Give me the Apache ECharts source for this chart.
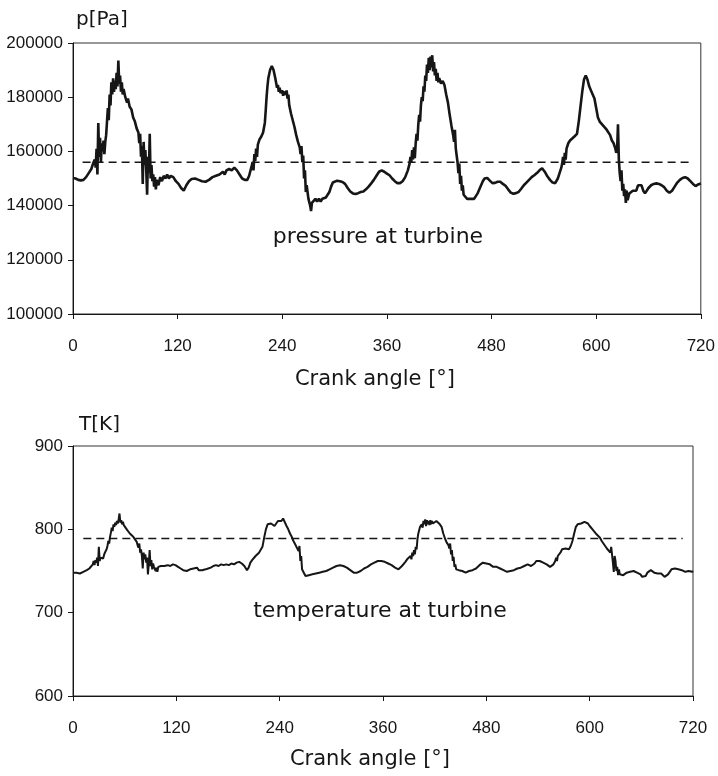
<!DOCTYPE html>
<html>
<head>
<meta charset="utf-8">
<title>Pressure and temperature at turbine</title>
<script src="https://cdn.jsdelivr.net/npm/echarts@6/dist/echarts.min.js"></script>
<style>
  html, body { margin: 0; padding: 0; background: #fff; }
  #chart { width: 718px; height: 776px; }
</style>
</head>
<body>
<div id="chart"></div>
<script>
// crank angle axis [deg]
const angleMin = 0, angleMax = 720, angleStep = 120;

// pressure at turbine, [crank angle, p in Pa]
const pressure = [
  [0,150200],[3,150000],[6,149500],[9,149300],[12,149500],[15,150500],[18,152000],[21,153500],[23,155500],[25,157000],
  [26,154000],[27,161000],[28,151500],[29,170500],[30,158000],[31,165000],[32,156000],[33,163000],[34,160000],[35,164000],
  [36,159000],[37,163500],[38,166000],[39,171000],[40,176000],[41,171500],[42,181000],[43,177000],[44,185500],[45,181000],
  [46,187000],[47,182000],[48,186000],[49,183000],[50,189000],[51,184000],[52,193500],[53,185000],[54,188000],[55,182000],
  [56,185500],[57,181000],[58,183000],[60,180000],[62,178000],[63,179500],[65,176500],[67,175500],[69,172500],[71,171000],
  [73,168500],[75,167000],[76,163000],[77,166500],[78,158000],[79,162000],[80,148000],[81,163500],[82,155000],[83,160500],
  [84,153000],[85,144000],[86,158000],[87,152000],[88,166500],[89,150000],[90,155000],[91,149000],[92,151500],[93,147000],
  [94,150500],[95,146000],[96,149500],[98,147500],[100,150500],[102,149000],[104,151000],[106,150000],[108,151500],[110,150000],
  [112,151000],[115,150500],[118,149000],[121,148000],[124,146500],[127,145500],[130,147500],[133,149000],[136,149800],[140,150000],
  [144,149500],[148,149000],[152,148800],[156,149500],[160,150500],[164,151000],[168,151500],[172,152500],[174,151500],[176,153000],
  [179,153500],[182,153000],[185,154000],[188,153000],[191,151500],[194,150000],[197,149500],[200,149500],[202,151000],[204,153500],
  [206,156000],[207,153000],[208,159000],[209,156500],[210,161000],[211,158000],[212,162500],[214,164500],[216,165500],[218,167000],
  [220,170500],[221,175000],[222,180000],[223,184000],[224,187000],[226,190000],[228,191500],[230,190000],[232,187000],[234,183500],
  [235,184500],[236,182000],[237,183500],[238,181500],[240,182500],[241,180500],[242,182000],[244,181000],[245,182500],[246,179500],
  [247,181000],[248,177000],[250,174000],[252,171500],[254,169000],[256,166000],[258,163500],[260,161500],[261,159000],[262,162000],
  [263,156000],[264,158500],[265,150000],[266,153000],[267,145000],[268,147500],[270,142500],[272,140000],[273,138000],[274,141000],
  [276,140500],[278,142500],[280,141500],[282,142500],[284,141500],[286,142500],[288,142000],[290,143000],[292,143500],[294,145000],
  [296,147000],[298,148500],[300,149000],[303,149200],[306,149000],[309,148700],[312,148000],[315,146500],[318,145200],[321,144500],
  [324,144300],[327,144600],[330,145000],[333,145200],[336,146000],[339,147000],[342,148200],[345,149500],[348,151000],[351,152500],
  [354,153000],[357,152500],[360,151800],[363,151200],[366,150000],[369,149000],[372,148300],[375,148300],[378,149000],[381,150500],
  [384,153000],[386,155500],[387,158000],[388,156000],[389,160500],[390,157000],[391,161500],[392,157500],[393,163000],[394,166500],
  [395,164000],[396,170000],[397,173500],[398,171000],[399,177000],[400,180000],[401,178500],[402,184000],[403,182000],[404,188000],
  [405,186000],[406,192000],[407,189000],[408,194500],[409,190000],[410,195000],[411,191000],[412,195500],[413,189500],[414,193000],
  [415,188000],[416,190500],[417,186000],[418,189000],[419,185500],[420,187000],[422,185000],[424,186000],[426,184500],[428,181000],
  [430,178000],[432,173500],[434,169500],[436,166000],[437,163500],[438,168000],[439,161000],[440,158500],[441,156000],[442,152000],
  [443,155500],[444,148000],[445,151000],[446,145500],[447,147500],[448,144000],[450,143500],[452,142500],[454,143000],[456,142500],
  [458,142000],[460,142500],[462,143500],[464,144500],[466,146000],[468,147500],[470,149000],[472,150000],[475,150200],[478,149200],
  [481,148300],[484,148400],[487,148800],[490,148800],[493,148000],[496,147300],[499,146000],[502,144800],[505,144400],[508,144600],
  [511,145000],[514,146200],[517,147500],[520,148500],[523,149500],[526,150500],[529,151200],[532,152000],[535,153000],[538,153800],
  [541,152500],[544,150800],[547,149500],[550,148500],[553,148300],[556,150000],[558,152000],[560,154000],[561,155500],[562,158000],
  [563,155000],[564,159500],[565,157000],[566,161000],[568,163000],[570,164000],[572,164500],[575,165500],[578,166500],[580,171000],
  [582,176500],[584,182000],[586,186500],[588,188000],[590,186500],[592,184000],[594,182500],[596,181000],[598,179500],[600,176000],
  [602,172500],[604,171000],[606,170500],[608,169500],[610,169000],[612,168000],[614,167500],[616,166000],[618,164000],[620,163000],
  [622,161000],[623,159500],[624,160500],[625,170000],[626,157000],[627,152000],[628,149000],[629,153000],[630,145500],[631,148000],
  [632,143500],[633,146000],[634,141000],[635,145500],[636,142000],[638,144500],[640,144000],[642,145500],[644,145000],[646,145500],
  [648,147500],[650,148200],[652,147500],[654,145500],[656,144500],[658,145000],[660,146500],[663,147500],[666,148000],[669,148200],
  [672,148000],[675,147500],[678,146800],[681,145500],[684,144700],[687,145500],[690,147000],[693,148500],[696,149500],[699,150200],
  [702,150500],[705,150000],[708,149000],[711,148000],[714,147200],[717,147800],[720,148200]
];
// mean pressure (dashed) and where the dash runs
const pMean = 156000;
const pMeanRange = [11, 710];

// temperature at turbine, [crank angle, T in K]
const temperature = [
  [0,748],[4,748],[8,747],[12,749],[16,751],[19,753],[21,755],[23,758],[24,762],[25,757],[26,763],[27,760],[28,766],[29,756],
  [30,779],[31,762],[32,766],[33,764],[34,768],[35,765],[36,769],[37,772],[38,770],[39,776],[40,780],[41,786],[42,783],[43,791],
  [44,796],[45,802],[46,798],[47,806],[48,803],[49,808],[50,805],[51,810],[52,807],[53,812],[54,819],[55,808],[56,811],[57,806],
  [58,809],[59,805],[60,806],[61,802],[62,803],[63,799],[64,798],[66,795],[68,793],[70,791],[72,789],[74,785],[75,781],[76,778],
  [77,783],[78,772],[79,776],[80,768],[81,753],[82,772],[83,764],[84,770],[85,760],[86,766],[87,746],[88,758],[89,775],[90,756],
  [91,763],[92,752],[93,759],[94,755],[95,757],[96,750],[97,754],[98,749],[99,755],[100,753],[102,756],[104,754],[106,756],[108,755],
  [110,757],[113,756],[116,758],[119,757],[122,755],[125,753],[128,751],[130,752],[132,750],[134,751],[136,752],[138,750],[140,753],
  [142,752],[144,754],[146,751],[148,752],[150,751],[152,753],[154,752],[157,753],[160,754],[163,756],[166,757],[169,756],[172,758],
  [175,757],[178,758],[181,757],[184,759],[187,758],[190,760],[193,761],[196,759],[199,756],[202,751],[204,754],[206,760],[208,763],
  [210,765],[212,768],[214,766],[216,772],[218,774],[220,779],[222,790],[224,800],[226,806],[228,808],[230,807],[232,805],[234,804],
  [236,806],[238,810],[240,812],[242,810],[244,813],[246,815],[248,804],[250,800],[252,795],[254,791],[256,786],[258,782],[260,778],
  [262,774],[263,780],[264,762],[265,768],[266,752],[268,748],[270,744],[272,742],[274,745],[276,744],[278,746],[280,745],[282,747],
  [284,746],[286,748],[288,748],[290,749],[292,748],[294,750],[296,751],[298,752],[300,752],[302,754],[304,755],[306,756],[308,756],
  [310,757],[312,757],[314,756],[316,756],[318,754],[320,753],[322,751],[324,749],[326,748],[328,748],[330,748],[332,749],[334,750],
  [336,751],[338,753],[340,754],[342,755],[344,757],[346,758],[348,759],[350,760],[352,762],[354,762],[356,763],[358,762],[360,761],
  [362,761],[364,760],[366,759],[368,758],[370,757],[372,755],[374,754],[376,752],[378,752],[380,754],[382,756],[384,758],[386,761],
  [388,764],[390,766],[392,768],[393,764],[394,772],[395,768],[396,775],[397,770],[398,779],[399,776],[400,788],[401,795],[402,799],
  [403,803],[404,801],[405,806],[406,802],[407,810],[408,806],[409,812],[410,804],[411,811],[412,806],[413,810],[414,805],[415,811],
  [416,806],[417,810],[418,807],[419,809],[420,807],[422,810],[424,808],[426,806],[428,803],[430,795],[432,789],[434,784],[436,781],
  [437,777],[438,783],[439,770],[440,775],[441,762],[442,767],[443,755],[444,758],[445,752],[446,750],[448,751],[450,749],[452,750],
  [454,749],[456,748],[458,749],[460,750],[462,751],[464,751],[466,752],[468,753],[470,755],[472,757],[474,758],[476,760],[478,761],
  [480,759],[482,757],[484,758],[486,756],[488,755],[490,756],[492,755],[494,754],[496,753],[498,752],[500,751],[502,750],[504,749],
  [506,749],[508,750],[510,750],[512,751],[514,752],[516,753],[518,754],[520,754],[522,755],[524,756],[526,757],[528,758],[530,757],
  [532,756],[534,757],[536,759],[538,762],[540,763],[542,762],[544,761],[546,760],[548,760],[550,758],[552,756],[554,755],[556,755],
  [558,758],[560,762],[561,766],[562,762],[563,768],[564,766],[565,770],[566,772],[568,776],[570,778],[572,777],[574,775],[576,776],
  [578,780],[580,786],[582,795],[584,803],[586,806],[588,806],[590,807],[592,808],[594,809],[596,808],[598,807],[600,804],[602,802],
  [604,799],[606,797],[608,794],[610,793],[612,790],[614,786],[616,783],[618,780],[620,777],[622,775],[624,772],[625,779],[626,781],
  [627,760],[628,749],[629,768],[630,762],[631,750],[632,755],[633,745],[634,752],[635,746],[637,748],[639,745],[641,747],[643,748],
  [645,749],[647,749],[649,750],[651,750],[653,749],[655,748],[657,749],[659,746],[661,743],[663,742],[665,744],[667,748],[669,750],
  [671,751],[673,750],[675,748],[677,747],[679,747],[681,748],[683,747],[685,745],[687,743],[689,744],[691,746],[693,749],[695,752],
  [697,753],[699,753],[701,753],[703,752],[705,752],[707,751],[709,750],[711,749],[713,749],[715,750],[717,751],[719,749],[720,750]
];
const tMean = 789;
const tMeanRange = [12, 708];

const ink = '#161616';
const tickFont = "'Liberation Sans', Arial, sans-serif";
const textFont = "'DejaVu Sans', Verdana, sans-serif";

let chartDom = document.getElementById('chart');
let myChart = echarts.init(chartDom, null, { renderer: 'canvas' });

function xAxisFor(gridIndex) {
  return {
    gridIndex: gridIndex,
    type: 'value',
    min: angleMin,
    max: angleMax,
    interval: angleStep,
    axisLine: { lineStyle: { color: ink, width: 1 } },
    axisTick: { show: true, length: 5, lineStyle: { color: ink } },
    axisLabel: { color: ink, fontSize: 17, fontFamily: tickFont, margin: 24 },
    splitLine: { show: false }
  };
}

function yAxisFor(gridIndex, min, max, step) {
  return {
    gridIndex: gridIndex,
    type: 'value',
    min: min,
    max: max,
    interval: step,
    axisLine: { show: true, lineStyle: { color: ink, width: 1 } },
    axisTick: { show: true, length: 5, lineStyle: { color: ink } },
    axisLabel: { color: ink, fontSize: 17, fontFamily: tickFont, margin: 10, formatter: v => String(v) },
    splitLine: { show: false }
  };
}

function textAt(x, y, text, size, align) {
  return {
    type: 'text',
    x: x,
    y: y,
    silent: true,
    style: {
      text: text,
      fill: ink,
      font: size + 'px ' + textFont,
      align: align || 'center',
      verticalAlign: 'middle'
    }
  };
}

let option = {
  backgroundColor: '#fff',
  animation: false,
  grid: [
    { left: 73, top: 43, width: 629, height: 271, show: true, borderColor: '#333', borderWidth: 1 },
    { left: 73, top: 446, width: 620, height: 250, show: true, borderColor: '#333', borderWidth: 1 }
  ],
  xAxis: [xAxisFor(0), xAxisFor(1)],
  yAxis: [yAxisFor(0, 100000, 200000, 20000), yAxisFor(1, 600, 900, 100)],
  graphic: [
    textAt(76, 20, 'p[Pa]', 20, 'left'),
    textAt(79, 425, 'T[K]', 20, 'left'),
    textAt(375, 380, 'Crank angle [°]', 21),
    textAt(370, 760, 'Crank angle [°]', 21),
    textAt(378, 237, 'pressure at turbine', 22),
    textAt(380, 611, 'temperature at turbine', 22)
  ],
  series: [
    {
      name: 'pressure at turbine',
      type: 'line',
      xAxisIndex: 0,
      yAxisIndex: 0,
      data: pressure,
      showSymbol: false,
      lineStyle: { color: ink, width: 2.6 }
    },
    {
      name: 'mean pressure',
      type: 'line',
      xAxisIndex: 0,
      yAxisIndex: 0,
      data: pMeanRange.map(a => [a, pMean]),
      showSymbol: false,
      lineStyle: { color: ink, width: 1.5, type: [8, 5] }
    },
    {
      name: 'temperature at turbine',
      type: 'line',
      xAxisIndex: 1,
      yAxisIndex: 1,
      data: temperature,
      showSymbol: false,
      lineStyle: { color: ink, width: 2 }
    },
    {
      name: 'mean temperature',
      type: 'line',
      xAxisIndex: 1,
      yAxisIndex: 1,
      data: tMeanRange.map(a => [a, tMean]),
      showSymbol: false,
      lineStyle: { color: ink, width: 1.5, type: [8, 5] }
    }
  ]
};

option && myChart.setOption(option);
</script>
</body>
</html>
